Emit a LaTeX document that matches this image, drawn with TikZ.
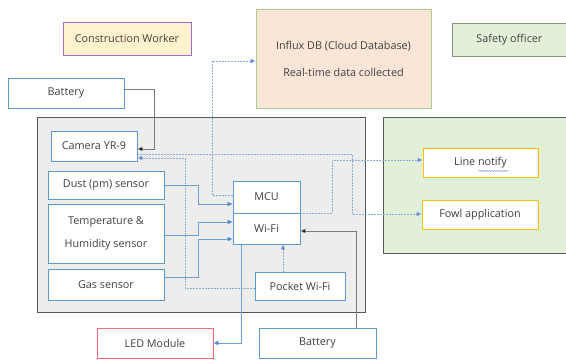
\documentclass[tikz,border=0pt]{standalone}
\usepackage{fontspec}
\setmainfont{Open Sans}
\usetikzlibrary{arrows.meta,calc,decorations.pathmorphing}
\definecolor{bbl}{HTML}{5B9BD5}
\definecolor{ylw}{HTML}{FFC000}
\definecolor{rdb}{HTML}{FF6B6B}
\definecolor{txt}{HTML}{404040}
\definecolor{lnb}{HTML}{6F9FDA}
\definecolor{dtb}{HTML}{8FAADC}
\definecolor{arb}{HTML}{4472C4}
\definecolor{gfr}{HTML}{595959}
\tikzset{
  box/.style={draw=bbl, line width=0.9pt, fill=white, text=txt, font=\fontsize{10.8}{13}\selectfont, align=center, inner sep=0pt},
  ybox/.style={box, draw=ylw},
  solidln/.style={draw=lnb, line width=0.7pt, -{Triangle[length=5pt,width=4.5pt,fill=arb]}},
  dotln/.style={draw=dtb, line width=0.7pt, dash pattern=on 1.5pt off 1.5pt, -{Triangle[length=5pt,width=4.5pt,fill=arb]}},
  blkln/.style={draw=gfr!80, line width=0.7pt, -{Triangle[length=5pt,width=4.5pt,fill=black]}},
}
\begin{document}
\begin{tikzpicture}[x=1pt,y=-1pt]
\clip (0,0) rectangle (566,361);
\fill[white] (0,0) rectangle (566,361);
% containers
\draw[draw=gfr, line width=1pt, fill=black!7] (37,118) rectangle (365,312);
\draw[draw=gfr, line width=1pt, fill={rgb,255:red,226;green,240;blue,217}] (383,118) rectangle (575,253);
% top boxes
\node[box, draw={rgb,255:red,165;green,105;blue,200}, fill={rgb,255:red,255;green,242;blue,204}, minimum width=128pt, minimum height=33pt] (cw) at (127,38.5) {Construction Worker};
\node[box, draw={rgb,255:red,169;green,209;blue,142}, fill={rgb,255:red,251;green,229;blue,214}, minimum width=175pt, minimum height=99pt] (influx) at (343.5,58.5) {Influx DB (Cloud Database)\\[14pt]Real-time data collected};
\node[box, draw={rgb,255:red,130;green,150;blue,120}, fill={rgb,255:red,226;green,240;blue,217}, minimum width=124pt, minimum height=33pt, anchor=west] (safety) at (452,39.5) {\hspace*{-10pt}Safety officer};
% nodes
\node[box, minimum width=116pt, minimum height=30pt] (bat1) at (66,93) {Battery};
\node[box, minimum width=86pt, minimum height=30pt] (cam) at (94,146) {Camera YR-9};
\node[box, minimum width=116pt, minimum height=28pt] (dust) at (106,185) {Dust (pm) sensor};
\node[box, minimum width=116pt, minimum height=59pt] (temp) at (106,233.5) {Temperature \&\\[10pt]Humidity sensor};
\node[box, minimum width=116pt, minimum height=31pt] (gas) at (106,284.5) {Gas sensor};
\node[box, minimum width=67pt, minimum height=32pt] (mcu) at (266.5,197) {MCU};
\node[box, minimum width=67pt, minimum height=31pt] (wifi) at (266.5,228.5) {Wi-Fi};
\node[box, minimum width=90pt, minimum height=28pt] (pocket) at (300,286) {Pocket Wi-Fi};
\node[box, draw=rdb, minimum width=116pt, minimum height=30pt] (led) at (155,343) {LED Module};
\node[box, minimum width=117pt, minimum height=30pt] (bat2) at (317.5,343) {Battery};
\node[ybox, minimum width=115pt, minimum height=29pt] (line) at (480.5,162.5) {Line notify};
\node[ybox, minimum width=116pt, minimum height=29pt] (fowl) at (480,214.5) {Fowl application};
\draw[draw=arb!70, line width=0.5pt, decorate, decoration={snake, amplitude=0.6pt, segment length=2.5pt}] ($(line.center)+(-2,8.5)$) -- ($(line.center)+(28,8.5)$);
% connectors
\draw[blkln] (bat1.east |- 0,89) -| (154,149) -- (cam.east |- 0,149);
\draw[dotln] (mcu.west |- 0,195) -| (212,61) -- (influx.west |- 0,61);
\draw[dotln] (pocket.west |- 0,288) -| (185,158) -- (cam.east |- 0,158);
\draw[dotln] (cam.east |- 0,154) -| (352,214) -- (fowl.west |- 0,214);
\draw[dotln] (wifi.east |- 0,213) -| (332,160) -- (line.west |- 0,160);
\draw[solidln] (dust.east) -| (198,204) -- (mcu.west |- 0,204);
\draw[solidln] (temp.east |- 0,235) -| (198,222) -- (wifi.west |- 0,222);
\draw[solidln] (gas.east |- 0,277) -| (198,239) -- (wifi.west |- 0,239);
\draw[solidln] (wifi.south -| 241,0) |- (led.east);
\draw[dotln] (pocket.north -| 283,0) -- (wifi.south -| 283,0);
\draw[blkln] (bat2.north -| 356,0) |- (wifi.east |- 0,231);
\end{tikzpicture}
\end{document}
